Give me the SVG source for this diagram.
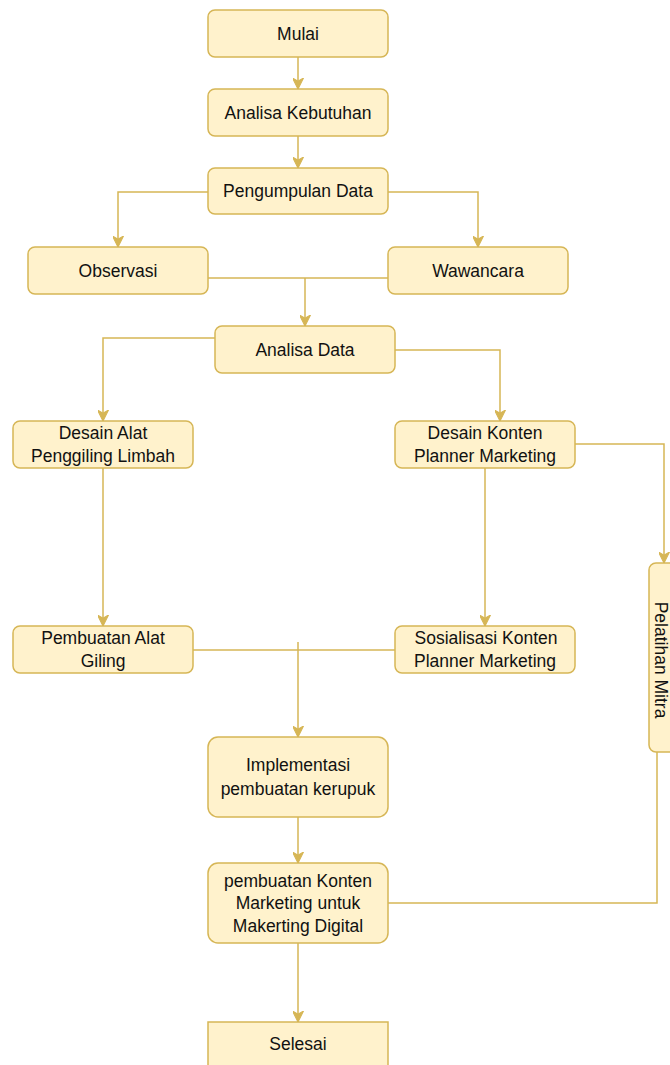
<svg xmlns="http://www.w3.org/2000/svg" width="670" height="1065" viewBox="0 0 670 1065">
<style>
.box{fill:#fff2cc;stroke:#d6b656;stroke-width:1.5}
.t{font-family:"Liberation Sans",Arial,sans-serif;font-size:17.5px;fill:#111111;text-anchor:middle}
.c{fill:none;stroke:#d6b656;stroke-width:1.5}
.a{marker-end:url(#arr)}
</style>
<defs>
<marker id="arr" markerUnits="userSpaceOnUse" markerWidth="11" markerHeight="11" refX="10" refY="5" orient="auto" viewBox="0 0 10 10">
<path d="M0,0 L10,5 L0,10 L3,5 Z" fill="#d6b656" stroke="#d6b656" stroke-width="1"/>
</marker>
</defs>
<rect width="670" height="1065" fill="#ffffff"/>
<g id="connectors">
<path class="c a" d="M298,57 V89"/>
<path class="c a" d="M298,135.5 V168"/>
<path class="c a" d="M208,192 H118 V247"/>
<path class="c a" d="M388,192 H478 V247"/>
<path class="c" d="M208,278 H388"/>
<path class="c a" d="M305,278 V326"/>
<path class="c a" d="M215,338 H103 V421"/>
<path class="c a" d="M395,350 H500 V421"/>
<path class="c a" d="M103,468 V626"/>
<path class="c a" d="M485,468 V626"/>
<path class="c a" d="M575,444 H664 V563"/>
<path class="c" d="M193,650 H395"/>
<path class="c a" d="M298,642 V737"/>
<path class="c a" d="M298,817 V863"/>
<path class="c" d="M657,752 V903 H388"/>
<path class="c a" d="M298,943 V1022"/>
</g>
<g id="mulai"><rect class="box" x="208" y="10" width="180" height="47" rx="7"/><text class="t" x="298" y="39.5">Mulai</text></g>
<g id="analisa-kebutuhan"><rect class="box" x="208" y="89" width="180" height="47" rx="7"/><text class="t" x="298" y="118.5">Analisa Kebutuhan</text></g>
<g id="pengumpulan-data"><rect class="box" x="208" y="168" width="180" height="46" rx="7"/><text class="t" x="298" y="197">Pengumpulan Data</text></g>
<g id="observasi"><rect class="box" x="28" y="247" width="180" height="47" rx="7"/><text class="t" x="118" y="276.5">Observasi</text></g>
<g id="wawancara"><rect class="box" x="388" y="247" width="180" height="47" rx="7"/><text class="t" x="478" y="276.5">Wawancara</text></g>
<g id="analisa-data"><rect class="box" x="215" y="326" width="180" height="47" rx="7"/><text class="t" x="305" y="355.5">Analisa Data</text></g>
<g id="desain-alat"><rect class="box" x="13" y="421" width="180" height="47" rx="7"/><text class="t" x="103" y="438.8">Desain Alat</text><text class="t" x="103" y="462.2">Penggiling Limbah</text></g>
<g id="desain-konten"><rect class="box" x="395" y="421" width="180" height="47" rx="7"/><text class="t" x="485" y="438.8">Desain Konten</text><text class="t" x="485" y="462.2">Planner Marketing</text></g>
<g id="pembuatan-alat"><rect class="box" x="13" y="626" width="180" height="47" rx="7"/><text class="t" x="103" y="643.8">Pembuatan Alat</text><text class="t" x="103" y="667.2">Giling</text></g>
<g id="sosialisasi"><rect class="box" x="395" y="626" width="180" height="47" rx="7"/><text class="t" x="486" y="643.8">Sosialisasi Konten</text><text class="t" x="485" y="667.2">Planner Marketing</text></g>
<g id="pelatihan-mitra"><rect class="box" x="649" y="563" width="47" height="189" rx="7"/><text class="t" transform="translate(661,660) rotate(90)" x="0" y="6">Pelatihan Mitra</text></g>
<g id="implementasi"><rect class="box" x="208" y="737" width="180" height="80" rx="10"/><text class="t" x="298" y="771.3">Implementasi</text><text class="t" x="298" y="794.7">pembuatan kerupuk</text></g>
<g id="pembuatan-konten"><rect class="box" x="208" y="863" width="180" height="80" rx="10"/><text class="t" x="298" y="886.5">pembuatan Konten</text><text class="t" x="298" y="909">Marketing untuk</text><text class="t" x="298" y="931.5">Makerting Digital</text></g>
<g id="selesai"><rect class="box" x="208" y="1022" width="180" height="47"/><text class="t" x="298" y="1050">Selesai</text></g>
</svg>
